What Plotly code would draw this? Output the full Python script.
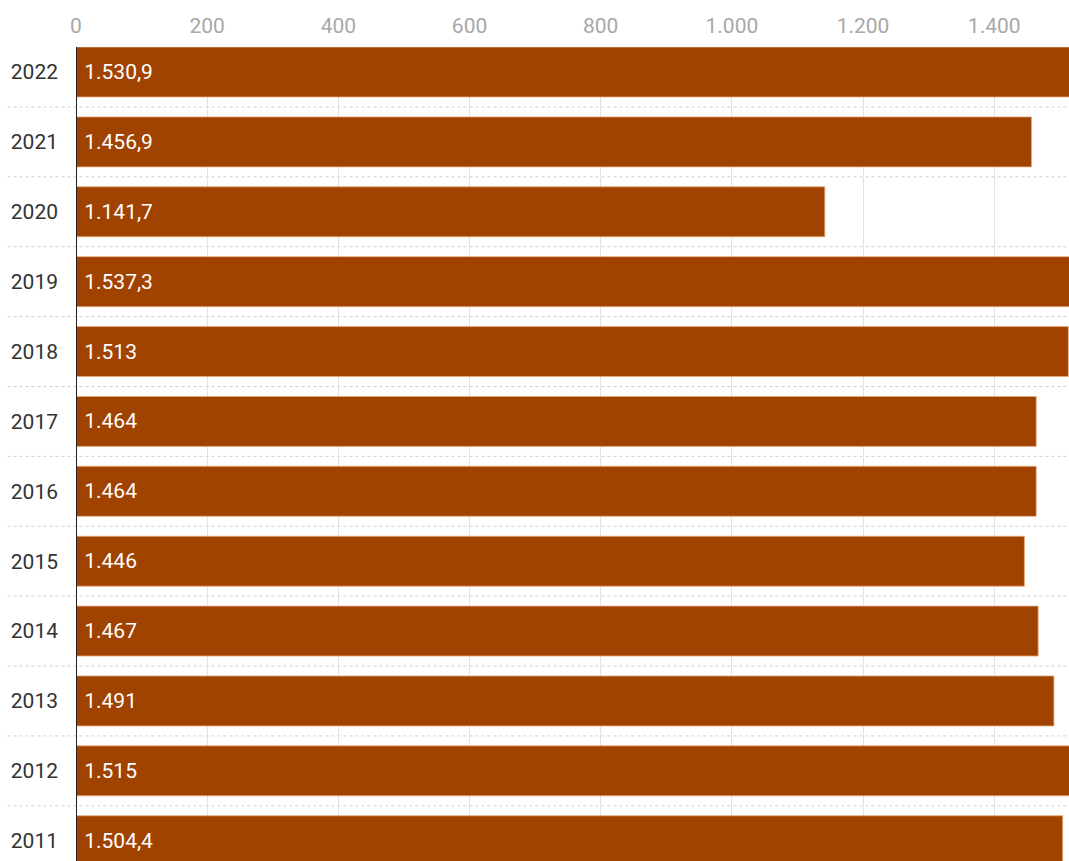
import plotly.graph_objects as go

# Jahreswerte (oben: neuestes Jahr)
years = ["2022", "2021", "2020", "2019", "2018", "2017",
         "2016", "2015", "2014", "2013", "2012", "2011"]
values = [1530.9, 1456.9, 1141.7, 1537.3, 1513, 1464,
          1464, 1446, 1467, 1491, 1515, 1504.4]
x_ticks = [0, 200, 400, 600, 800, 1000, 1200, 1400]

BAR_COLOR = "#A14300"
FONT = "Roboto"

fig = go.Figure(
    go.Bar(
        x=values,
        y=years,
        orientation="h",
        marker=dict(color=BAR_COLOR, line=dict(color="rgba(235,170,120,0.8)", width=1)),
        texttemplate="\u00a0%{x:,.1~f}",
        textposition="inside",
        insidetextanchor="start",
        textfont=dict(family=FONT, size=21, color="white"),
        cliponaxis=True,
        hoverinfo="skip",
    )
)

# gepunktete Trennlinien zwischen den Jahren
shapes = []
for i in range(len(years) - 1):
    shapes.append(dict(
        type="line", xref="paper", yref="y",
        x0=-0.069, x1=1, y0=i + 0.5, y1=i + 0.5,
        line=dict(color="#d0d0d0", width=1, dash="dot"),
        layer="below",
    ))
# Nulllinie
shapes.append(dict(
    type="line", xref="x", yref="paper",
    x0=0, x1=0, y0=0, y1=1,
    line=dict(color="#222222", width=2),
    layer="above",
))

fig.update_layout(
    width=1069,
    height=861,
    margin=dict(l=76, r=0, t=47, b=0),
    paper_bgcolor="white",
    plot_bgcolor="white",
    separators=",.",
    bargap=0.285,
    showlegend=False,
    shapes=shapes,
    font=dict(family=FONT),
    xaxis=dict(
        side="top",
        range=[0, 1514],
        tickvals=x_ticks,
        tickformat=",d",
        showgrid=True,
        gridcolor="#e2e2e2",
        gridwidth=1,
        zeroline=False,
        showline=False,
        ticks="",
        tickfont=dict(family=FONT, size=21, color="#a8a8a8"),
        ticklabelstandoff=9,
    ),
    yaxis=dict(
        type="category",
        categoryorder="array",
        categoryarray=years,
        range=[11.29, -0.358],
        showgrid=False,
        zeroline=False,
        showline=False,
        ticks="",
        tickfont=dict(family=FONT, size=21, color="#333333"),
        ticklabelstandoff=17,
    ),
)

fig.write_html("out.html")
